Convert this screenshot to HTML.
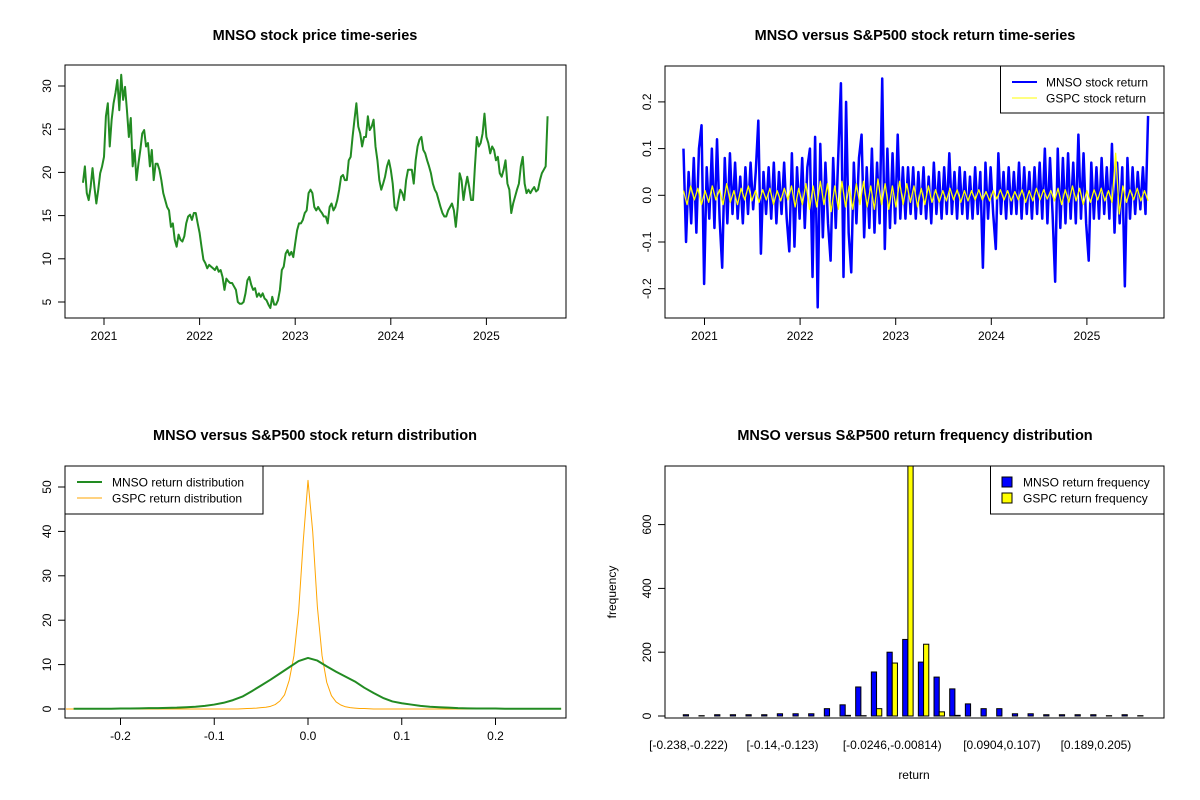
<!DOCTYPE html>
<html><head><meta charset="utf-8"><style>
html,body{margin:0;padding:0;background:#fff;}
svg{display:block;font-family:"Liberation Sans",Arial,sans-serif;}
</style></head><body>
<svg id="chart" width="1200" height="800" viewBox="0 0 1200 800" xmlns="http://www.w3.org/2000/svg">
<rect width="1200" height="800" fill="#fff"/>
<g id="p1"></g>
<g id="p2"></g>
<g id="p3"></g>
<g id="p4"></g>
</svg>
<script>
// ---------- data ----------
const priceStart = 2020.78, priceEnd = 2025.64;
const priceValues = [18.8,20.7,17.6,16.8,18.3,20.5,18.3,16.4,18.0,19.9,20.7,21.8,26.5,28.0,23.0,26.1,28.0,29.2,30.7,27.2,31.3,28.4,29.9,27.2,24.1,26.3,20.7,22.6,19.1,21.0,22.6,24.5,24.9,23.0,23.4,20.7,22.6,19.1,21.0,21.0,20.3,19.1,17.6,16.8,16.0,15.6,13.7,14.1,12.2,11.4,12.8,12.2,12.0,12.6,14.1,14.9,15.1,14.5,15.3,15.3,14.1,13.0,11.4,9.9,9.5,8.9,9.3,9.1,8.9,8.7,9.1,8.5,8.7,7.9,6.4,7.7,7.4,7.2,7.2,6.8,6.4,5.0,4.8,4.8,5.0,6.0,7.5,7.9,7.0,6.4,6.6,5.6,6.0,5.6,6.0,5.4,5.2,4.7,4.3,5.6,4.7,4.7,5.2,6.4,8.7,9.1,10.6,11.0,10.4,10.8,10.2,11.8,13.3,14.1,14.1,14.5,15.3,15.6,17.6,18.0,17.6,16.0,15.6,16.0,15.6,15.3,14.9,14.9,14.1,16.0,16.4,15.6,16.0,16.8,18.0,19.5,19.7,19.1,19.1,21.4,21.8,24.1,26.1,28.0,25.3,24.5,23.0,24.1,24.1,26.5,24.9,25.3,26.1,23.0,21.4,19.1,18.0,18.7,19.5,20.7,21.4,20.3,18.7,16.0,15.6,16.8,18.0,17.6,16.8,19.1,20.3,20.3,20.3,18.7,21.4,23.0,23.8,24.1,22.6,22.2,21.4,20.7,19.9,18.7,18.0,17.6,16.8,16.0,15.3,14.9,14.9,15.6,16.0,16.4,15.6,13.7,16.0,19.9,19.1,16.8,18.3,19.5,18.3,16.8,16.8,20.7,24.1,23.0,23.4,24.5,26.8,24.1,23.4,22.2,23.0,22.6,21.4,21.8,19.9,19.5,20.3,21.4,18.7,18.0,15.3,16.4,17.2,18.0,18.7,20.7,21.8,18.7,17.6,18.0,17.6,18.0,18.3,17.8,18.0,19.1,19.9,20.3,20.7,26.5];
const mnsoReturns = [0.10,-0.10,0.05,-0.06,0.08,-0.08,0.10,0.15,-0.19,0.06,-0.05,0.10,-0.07,0.12,-0.05,-0.155,0.08,-0.06,0.09,-0.04,0.07,-0.05,0.04,-0.06,0.06,-0.04,0.07,-0.03,0.05,0.16,-0.125,0.05,-0.04,0.06,-0.05,0.07,-0.06,0.05,-0.04,0.07,-0.05,-0.12,0.09,-0.11,0.06,-0.05,0.08,-0.07,0.06,0.10,-0.175,0.125,-0.24,0.11,-0.09,0.07,-0.06,-0.14,0.08,-0.07,0.09,0.24,-0.175,0.20,-0.08,-0.165,0.07,-0.06,0.08,0.13,-0.09,0.06,-0.07,0.10,-0.08,0.07,-0.06,0.25,-0.115,0.10,-0.07,0.09,-0.06,0.13,-0.05,0.06,-0.05,0.06,-0.04,0.06,-0.05,0.05,-0.04,0.06,-0.05,0.04,-0.06,0.07,-0.04,0.05,-0.05,0.06,-0.04,0.09,-0.04,0.05,-0.05,0.06,-0.04,0.05,-0.05,0.04,-0.05,0.06,-0.04,0.05,-0.155,0.07,-0.05,0.06,-0.04,-0.115,0.09,-0.04,0.05,-0.05,0.06,-0.04,0.05,-0.04,0.07,-0.05,0.06,-0.04,0.05,-0.05,0.06,-0.04,0.07,-0.05,0.10,-0.06,0.08,-0.04,-0.185,0.10,-0.07,0.08,-0.06,0.09,-0.05,0.07,-0.06,0.13,-0.05,0.09,-0.06,-0.14,0.07,-0.05,0.06,-0.05,0.08,-0.04,0.06,-0.05,0.11,-0.08,0.07,-0.06,0.06,-0.195,0.08,-0.05,0.06,-0.04,0.05,-0.03,0.06,-0.04,0.17];
const gspcReturns = [0.01,-0.02,0.02,-0.01,0.015,-0.02,0.01,-0.015,0.02,-0.01,0.012,-0.02,0.025,-0.015,0.01,-0.02,0.015,-0.01,0.02,-0.012,0.01,-0.015,0.012,-0.01,0.015,-0.02,0.01,-0.012,0.015,-0.01,0.02,-0.025,0.015,-0.02,0.025,-0.03,0.02,-0.025,0.03,-0.02,0.025,-0.035,0.02,-0.03,0.03,-0.025,0.02,-0.03,0.025,-0.02,0.03,-0.025,0.02,-0.03,0.035,-0.02,0.025,-0.03,0.02,-0.025,0.03,-0.02,0.025,-0.015,0.02,-0.025,0.015,-0.02,0.02,-0.015,0.012,-0.015,0.01,-0.012,0.015,-0.01,0.012,-0.015,0.01,-0.012,0.01,-0.01,0.012,-0.01,0.008,-0.012,0.01,-0.008,0.012,-0.01,0.01,-0.012,0.008,-0.01,0.012,-0.015,0.01,-0.012,0.015,-0.01,0.012,-0.008,0.01,-0.012,0.015,-0.02,0.012,-0.015,0.02,-0.012,0.015,-0.02,0.01,-0.015,0.012,-0.01,0.015,-0.012,0.01,-0.015,0.09,-0.04,0.02,-0.015,0.012,-0.01,0.015,-0.012,0.01,-0.012];
const mnsoDensX = [-0.25,-0.24,-0.23,-0.22,-0.21,-0.20,-0.19,-0.18,-0.17,-0.16,-0.15,-0.14,-0.13,-0.12,-0.11,-0.10,-0.09,-0.08,-0.07,-0.06,-0.05,-0.04,-0.03,-0.02,-0.01,0,0.01,0.02,0.03,0.04,0.05,0.06,0.07,0.08,0.09,0.10,0.11,0.12,0.13,0.14,0.15,0.16,0.17,0.18,0.19,0.20,0.21,0.22,0.23,0.24,0.25,0.26,0.27];
const mnsoDensY = [0.05,0.05,0.05,0.05,0.05,0.1,0.1,0.15,0.2,0.2,0.25,0.3,0.4,0.5,0.7,1.0,1.4,2.0,2.8,4.0,5.3,6.6,8.0,9.4,10.8,11.5,10.9,9.6,8.4,7.3,6.2,4.8,3.6,2.5,1.7,1.3,1.0,0.7,0.5,0.4,0.3,0.2,0.15,0.1,0.1,0.1,0.05,0.05,0.05,0.05,0.05,0.05,0.05];
const gspcDensX = [-0.27,-0.08,-0.075,-0.07,-0.065,-0.06,-0.055,-0.05,-0.045,-0.04,-0.035,-0.03,-0.025,-0.02,-0.015,-0.01,-0.005,0,0.005,0.01,0.015,0.02,0.025,0.03,0.035,0.04,0.045,0.05,0.055,0.06,0.065,0.07,0.075,0.08,0.27];
const gspcDensY = [0,0,0,0.05,0.1,0.15,0.2,0.3,0.4,0.6,1.0,1.8,3.2,6.5,12,22,38,51.5,40,23,12,6,3,1.6,0.9,0.5,0.3,0.2,0.1,0.1,0.05,0,0,0,0];
const mnsoFreq = [4,1,4,4,4,4,7,7,7,23,35,91,138,200,240,169,122,85,38,23,23,7,7,4,4,4,4,1,4,1];
const gspcFreq = [0,0,0,0,0,0,0,0,0,0,2,1,23,166,900,225,13,2,0,0,0,0,0,0,0,0,0,0,0,0];
const binLabels = ["[-0.238,-0.222)","[-0.14,-0.123)","[-0.0246,-0.00814)","[0.0904,0.107)","[0.189,0.205)"];
const binLabelIdx = [0,6,13,20,26];
const yearTicks = [2021,2022,2023,2024,2025];
const priceTicks = [5,10,15,20,25,30];
const returnTicks = [-0.2,-0.1,0.0,0.1,0.2];
const densXTicks = [-0.2,-0.1,0.0,0.1,0.2];
const densYTicks = [0,10,20,30,40,50];
const freqTicks = [0,200,400,600];

// ---------- helpers ----------
const NS="http://www.w3.org/2000/svg";
function mk(parent,tag,attrs,txt){const e=document.createElementNS(NS,tag);for(const k in attrs)e.setAttribute(k,attrs[k]);if(txt!==undefined)e.textContent=txt;parent.appendChild(e);return e;}
function fmt(v){return v.toFixed(1);}

const xYear1=y=>104+(y-2021)*95.6;
const yPrice=v=>302-(v-5)*8.64;
const xYear2=y=>704.5+(y-2021)*95.6;
const yRet=r=>195.3-r*467;
const xDens=v=>308+v*937.5;
const yDens=d=>709-d*4.44;
const yFreq=c=>Math.max(466,716-c*0.319);
const xGroup=i=>683.3+i*15.67;
const BW=5.22;

function box(g,x1,y1,x2,y2,name){const r=mk(g,'rect',{x:x1,y:y1,width:x2-x1,height:y2-y1,fill:'none',stroke:'#000','stroke-width':1});

}
function title(g,x,y,t,name){const e=mk(g,'text',{x:x,y:y,'text-anchor':'middle','font-size':14.5,'font-weight':'bold'},t);

}
function xAxis(g,ticks,fx,y,labels,name){const a=mk(g,'g',{});


mk(a,'line',{x1:fx(ticks[0]),x2:fx(ticks[ticks.length-1]),y1:y,y2:y,stroke:'#000'});
ticks.forEach((t,i)=>{mk(a,'line',{x1:fx(t),x2:fx(t),y1:y,y2:y+7,stroke:'#000'});
const l=mk(a,'text',{x:fx(t),y:y+22,'text-anchor':'middle','font-size':12},labels[i]);

});}
function yAxis(g,ticks,fy,x,labels,name){const a=mk(g,'g',{});


mk(a,'line',{x1:x,x2:x,y1:fy(ticks[0]),y2:fy(ticks[ticks.length-1]),stroke:'#000'});
ticks.forEach((t,i)=>{mk(a,'line',{x1:x-7,x2:x,y1:fy(t),y2:fy(t),stroke:'#000'});
const l=mk(a,'text',{x:x-14,y:fy(t),'text-anchor':'middle','font-size':12,transform:`rotate(-90 ${x-14} ${fy(t)})`},labels[i]);

});}
function poly(g,pts,color,w,name){const p=mk(g,'polyline',{points:pts.map(p=>p[0].toFixed(2)+','+p[1].toFixed(2)).join(' '),fill:'none',stroke:color,'stroke-width':w,'stroke-linejoin':'round'});

}

// ---------- panel 1 ----------
const p1=document.getElementById('p1');
title(p1,315,40,'MNSO stock price time-series','price-title');
box(p1,65,65,566,318,'price-plot-box');
poly(p1,priceValues.map((v,i)=>[xYear1(priceStart+(priceEnd-priceStart)*i/(priceValues.length-1)),yPrice(v)]),'#228B22',2,'price-line');
xAxis(p1,yearTicks,xYear1,318,yearTicks.map(String),'price-x-axis');
yAxis(p1,priceTicks,yPrice,65,priceTicks.map(String),'price-y-axis');

// ---------- panel 2 ----------
const p2=document.getElementById('p2');
title(p2,915,40,'MNSO versus S&P500 stock return time-series','return-title');
const cp=mk(p2,'clipPath',{id:'c2'});mk(cp,'rect',{x:665,y:66,width:499,height:252});
const g2=mk(p2,'g',{'clip-path':'url(#c2)'});
poly(g2,mnsoReturns.map((v,i)=>[xYear2(priceStart+(priceEnd-priceStart)*i/(mnsoReturns.length-1)),yRet(v)]),'#0000FF',2.5,'mnso-return-line');
poly(g2,gspcReturns.map((v,i)=>[xYear2(priceStart+(priceEnd-priceStart)*i/(gspcReturns.length-1)),yRet(v)]),'#FFFF00',1.3,'gspc-return-line');
box(p2,665,66,1164,318,'return-plot-box');
xAxis(p2,yearTicks,xYear2,318,yearTicks.map(String),'return-x-axis');
yAxis(p2,returnTicks,yRet,665,returnTicks.map(fmt),'return-y-axis');
{const L=mk(p2,'g',{});


mk(L,'rect',{x:1000.5,y:66,width:163.5,height:47,fill:'#fff',stroke:'#000'});
mk(L,'line',{x1:1012,x2:1037,y1:82,y2:82,stroke:'#0000FF','stroke-width':2});
mk(L,'line',{x1:1012,x2:1037,y1:98,y2:98,stroke:'#FFFF00','stroke-width':1});
const t1=mk(L,'text',{x:1046,y:86.5,'font-size':12},'MNSO stock return');


const t2=mk(L,'text',{x:1046,y:102.5,'font-size':12},'GSPC stock return');

}

// ---------- panel 3 ----------
const p3=document.getElementById('p3');
title(p3,315,440,'MNSO versus S&P500 stock return distribution','distribution-title');
const cp3=mk(p3,'clipPath',{id:'c3'});mk(cp3,'rect',{x:66,y:466,width:500,height:252});
const g3=mk(p3,'g',{'clip-path':'url(#c3)'});
poly(g3,gspcDensX.map((v,i)=>[xDens(v),yDens(gspcDensY[i])]),'#FFA500',1,'gspc-density-line');
poly(g3,mnsoDensX.map((v,i)=>[xDens(v),yDens(mnsoDensY[i])]),'#228B22',2,'mnso-density-line');
box(p3,65,466,566,718,'distribution-plot-box');
xAxis(p3,densXTicks,xDens,718,densXTicks.map(fmt),'distribution-x-axis');
yAxis(p3,densYTicks,yDens,65,densYTicks.map(String),'distribution-y-axis');
{const L=mk(p3,'g',{});


mk(L,'rect',{x:65,y:466,width:198,height:48,fill:'#fff',stroke:'#000'});
mk(L,'line',{x1:77,x2:102,y1:482,y2:482,stroke:'#228B22','stroke-width':2});
mk(L,'line',{x1:77,x2:102,y1:498,y2:498,stroke:'#FFA500','stroke-width':1});
const t1=mk(L,'text',{x:112,y:486.5,'font-size':12},'MNSO return distribution');


const t2=mk(L,'text',{x:112,y:502.5,'font-size':12},'GSPC return distribution');

}

// ---------- panel 4 ----------
const p4=document.getElementById('p4');
title(p4,915,440,'MNSO versus S&P500 return frequency distribution','frequency-title');
mnsoFreq.forEach((c,i)=>{const r=mk(p4,'rect',{x:xGroup(i),y:yFreq(c),width:BW,height:716-yFreq(c),fill:'#0000FF',stroke:'#000','stroke-width':1});

});
gspcFreq.forEach((c,i)=>{const r=mk(p4,'rect',{x:xGroup(i)+BW,y:yFreq(c),width:BW,height:716-yFreq(c),fill:'#FFFF00',stroke:'#000','stroke-width':1});

});
box(p4,665,466,1164,718,'frequency-plot-box');
yAxis(p4,freqTicks,c=>716-c*0.319,665,freqTicks.map(String),'frequency-y-axis');
binLabels.forEach((t,k)=>{const l=mk(p4,'text',{x:xGroup(binLabelIdx[k])+BW,y:749,'text-anchor':'middle','font-size':12},t);

});
{const a=mk(p4,'text',{x:914,y:779,'text-anchor':'middle','font-size':12},'return');


const b=mk(p4,'text',{x:616,y:592,'text-anchor':'middle','font-size':12,transform:'rotate(-90 616 592)'},'frequency');

}
{const L=mk(p4,'g',{});


mk(L,'rect',{x:990.5,y:466,width:173.5,height:48,fill:'#fff',stroke:'#000'});
mk(L,'rect',{x:1002,y:477,width:10,height:10,fill:'#0000FF',stroke:'#000'});
mk(L,'rect',{x:1002,y:493,width:10,height:10,fill:'#FFFF00',stroke:'#000'});
const t1=mk(L,'text',{x:1023,y:486.5,'font-size':12},'MNSO return frequency');


const t2=mk(L,'text',{x:1023,y:502.5,'font-size':12},'GSPC return frequency');

}
</script>
</body></html>
